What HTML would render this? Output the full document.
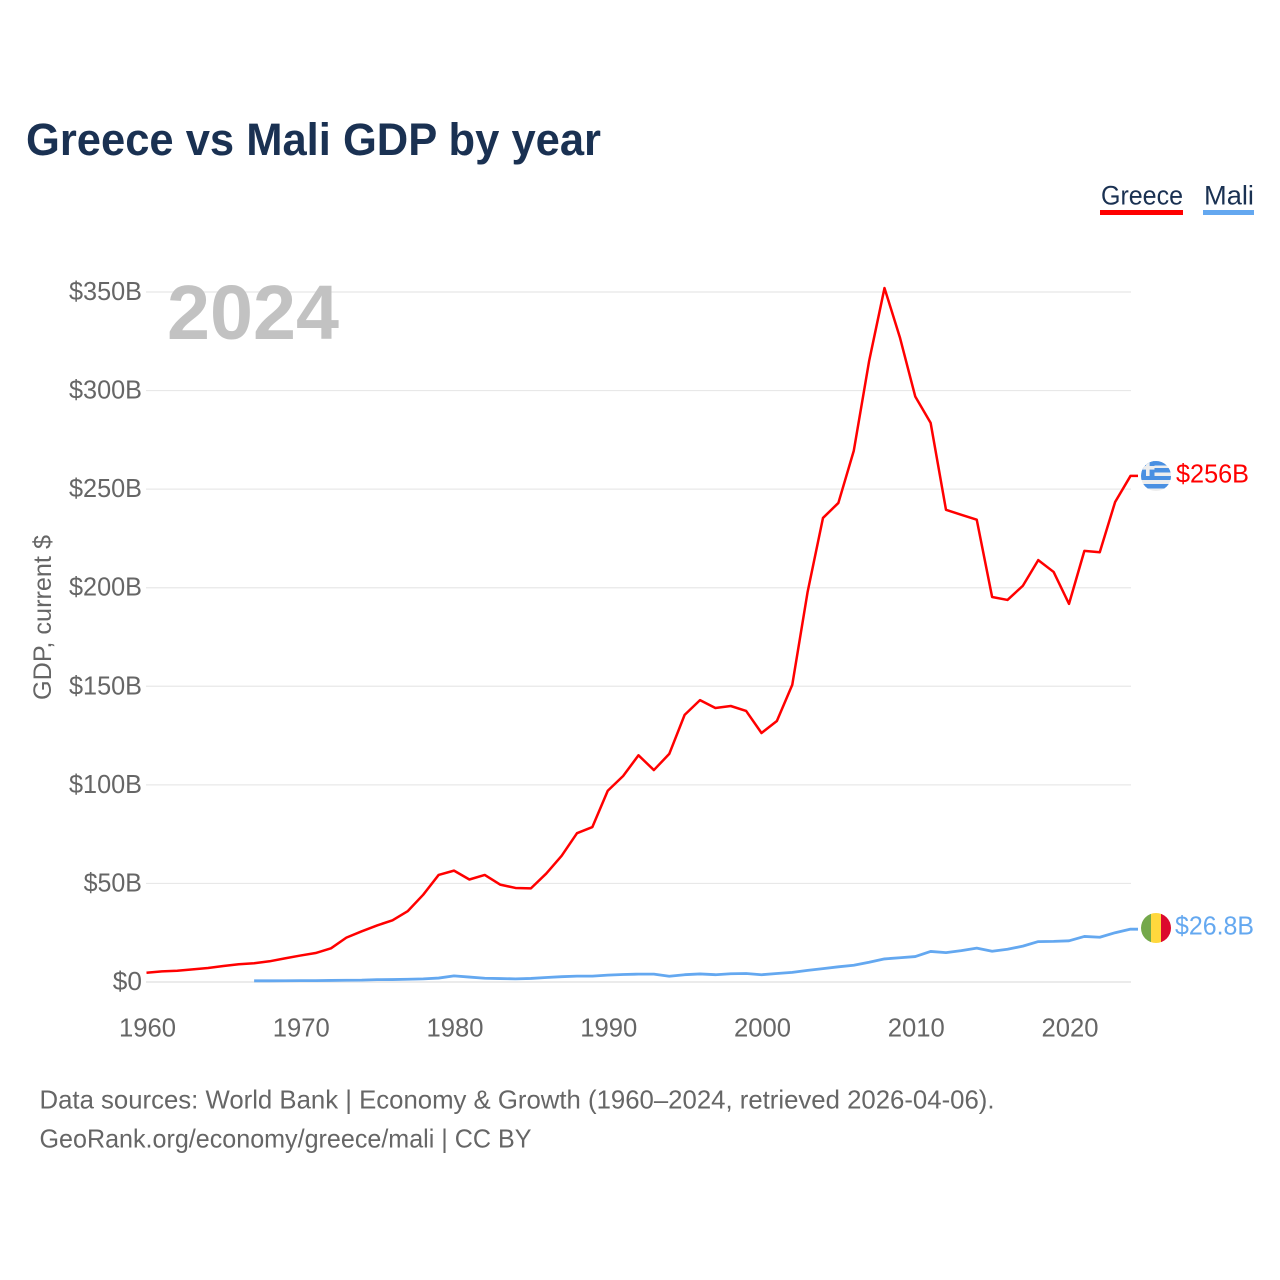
<!DOCTYPE html>
<html lang="en">
<head>
<meta charset="utf-8">
<title>Greece vs Mali GDP by year</title>
<style>
html,body{margin:0;padding:0;background:#fff;}
svg{display:block;font-family:"Liberation Sans",Arial,sans-serif;}
</style>
</head>
<body>
<svg id="chart" xmlns="http://www.w3.org/2000/svg" width="1280" height="1280" viewBox="0 0 1280 1280">
  <rect width="1280" height="1280" fill="#fff"/>
  <text x="26" y="155" font-size="45" font-weight="700" fill="#1a3152" textLength="575" lengthAdjust="spacingAndGlyphs">Greece vs Mali GDP by year</text>
  <g id="grid"></g>
  <g id="yticks"></g>
  <g id="xticks"></g>
  <text x="167" y="339" font-size="77" font-weight="700" fill="#c2c2c2" textLength="172" lengthAdjust="spacingAndGlyphs">2024</text>
  <text transform="translate(51,700) rotate(-90)" x="0" y="0" font-size="25" fill="#666" textLength="165" lengthAdjust="spacingAndGlyphs">GDP, current $</text>
  <path id="line-mali" fill="none" stroke="#64a8f0" stroke-width="2.8" stroke-linejoin="round"/>
  <path id="line-greece" fill="none" stroke="#ff0000" stroke-width="2.5" stroke-linejoin="round"/>

  <g>
    <text x="1101" y="204.5" font-size="27" fill="#1a3152" textLength="82" lengthAdjust="spacingAndGlyphs">Greece</text>
    <rect x="1100" y="210" width="83" height="5" fill="#ff0000"/>
  </g>
  <g>
    <text x="1204" y="204.5" font-size="27" fill="#1a3152" textLength="50" lengthAdjust="spacingAndGlyphs">Mali</text>
    <rect x="1203" y="210" width="51" height="5" fill="#64a8f0"/>
  </g>

  <defs>
    <clipPath id="clip-gr"><circle cx="1156" cy="476" r="15"/></clipPath>
    <clipPath id="clip-ml"><circle cx="1156" cy="928" r="15"/></clipPath>
  </defs>
  <g clip-path="url(#clip-gr)">
    <rect x="1141" y="461" width="30" height="30" fill="#eeeeee"/>
    <rect x="1141" y="460" width="30" height="5.5" fill="#4a90e2"/>
    <rect x="1141" y="468" width="30" height="4.5" fill="#4a90e2"/>
    <rect x="1141" y="476" width="30" height="4" fill="#4a90e2"/>
    <rect x="1141" y="484" width="30" height="4.5" fill="#4a90e2"/>
    <rect x="1141" y="461" width="13.5" height="15" fill="#4a90e2"/>
    <rect x="1146" y="461" width="3.6" height="15" fill="#eeeeee"/>
    <rect x="1141" y="466" width="13.5" height="3.6" fill="#eeeeee"/>
  </g>
  <g clip-path="url(#clip-ml)">
    <rect x="1141" y="913" width="10" height="30" fill="#74a84b"/>
    <rect x="1151" y="913" width="10" height="30" fill="#ffd83d"/>
    <rect x="1161" y="913" width="10" height="30" fill="#dc0a2d"/>
  </g>
  <text x="1176" y="482.5" font-size="26" fill="#ff0000" textLength="73" lengthAdjust="spacingAndGlyphs">$256B</text>
  <text x="1175" y="934.5" font-size="26" fill="#64a8f0" textLength="79" lengthAdjust="spacingAndGlyphs">$26.8B</text>

  <text x="39.5" y="1108.5" font-size="26" fill="#666" textLength="955" lengthAdjust="spacingAndGlyphs">Data sources: World Bank | Economy &amp; Growth (1960–2024, retrieved 2026-04-06).</text>
  <text x="39.5" y="1147.5" font-size="26" fill="#666" textLength="492" lengthAdjust="spacingAndGlyphs">GeoRank.org/economy/greece/mali | CC BY</text>
</svg>
<script>
const greeceStartYear = 1960;
const greeceGdp = [4.7,5.4,5.7,6.4,7.1,8.1,9.0,9.5,10.5,12,13.4,14.7,17.1,22.5,25.7,28.7,31.3,36,44.3,54.3,56.5,52,54.3,49.4,47.7,47.5,55,64,75.5,78.6,97,104.5,115,107.5,115.7,135.5,143,139,140,137.5,126.3,132.4,150.7,197.9,235.4,243,269.4,315,352,327,297,283.6,239.5,237,234.5,195.3,193.8,201,214,208,191.8,218.7,218,243.5,256.7];
const maliStartYear = 1967;
const maliGdp = [0.6,0.6,0.65,0.7,0.7,0.8,0.9,0.95,1.2,1.25,1.4,1.6,2.0,3.1,2.5,1.9,1.75,1.6,1.8,2.3,2.7,3.0,3.0,3.5,3.8,4.0,4.0,2.9,3.7,4.1,3.7,4.2,4.3,3.7,4.3,4.9,5.9,6.8,7.7,8.5,10,11.7,12.3,12.9,15.5,14.9,15.9,17.2,15.6,16.6,18.2,20.5,20.6,20.9,23.1,22.7,25,26.8];
const yTickValues = [0,50,100,150,200,250,300,350];
const yTickLabels = ["$0","$50B","$100B","$150B","$200B","$250B","$300B","$350B"];
const xTickYears = [1960,1970,1980,1990,2000,2010,2020];

const NS = "http://www.w3.org/2000/svg";
const xScale = y => 146.5 + (y - 1960) * (1130.5 - 146.5) / 64;
const yScale = v => 982 - v * (982 - 292) / 350;

function makeText(parent, x, y, anchor, str) {
  const t = document.createElementNS(NS, "text");
  t.setAttribute("x", x);
  t.setAttribute("y", y);
  t.setAttribute("text-anchor", anchor);
  t.setAttribute("font-size", "26");
  t.setAttribute("fill", "#666");
  t.setAttribute("lengthAdjust", "spacingAndGlyphs");
  t.textContent = str;
  parent.appendChild(t);
  return t;
}

const grid = document.getElementById("grid");
const yG = document.getElementById("yticks");
yTickValues.forEach((v, i) => {
  const l = document.createElementNS(NS, "line");
  
  
  l.setAttribute("x1", 146);
  l.setAttribute("x2", 1131);
  l.setAttribute("y1", yScale(v));
  l.setAttribute("y2", yScale(v));
  l.setAttribute("stroke", v === 0 ? "#ebebeb" : "#e8e8e8");
  l.setAttribute("stroke-width", v === 0 ? 2 : 1.2);
  grid.appendChild(l);
  const t = makeText(yG, 142, yScale(v) + 8, "end", yTickLabels[i]);
  
  
  t.setAttribute("textLength", (yTickLabels[i].length * 14.6).toFixed(1));
});

const xG = document.getElementById("xticks");
xTickYears.forEach(yr => {
  const t = makeText(xG, xScale(yr) + 1, 1036.5, "middle", String(yr));
  
  
  t.setAttribute("textLength", "57");
});

function linePath(start, vals) {
  let d = vals.map((v, i) => (i ? "L" : "M") + xScale(start + i).toFixed(2) + " " + yScale(v).toFixed(2)).join(" ");
  d += " L1138 " + yScale(vals[vals.length - 1]).toFixed(2);
  return d;
}
document.getElementById("line-greece").setAttribute("d", linePath(greeceStartYear, greeceGdp));
document.getElementById("line-mali").setAttribute("d", linePath(maliStartYear, maliGdp));
</script>
</body>
</html>
